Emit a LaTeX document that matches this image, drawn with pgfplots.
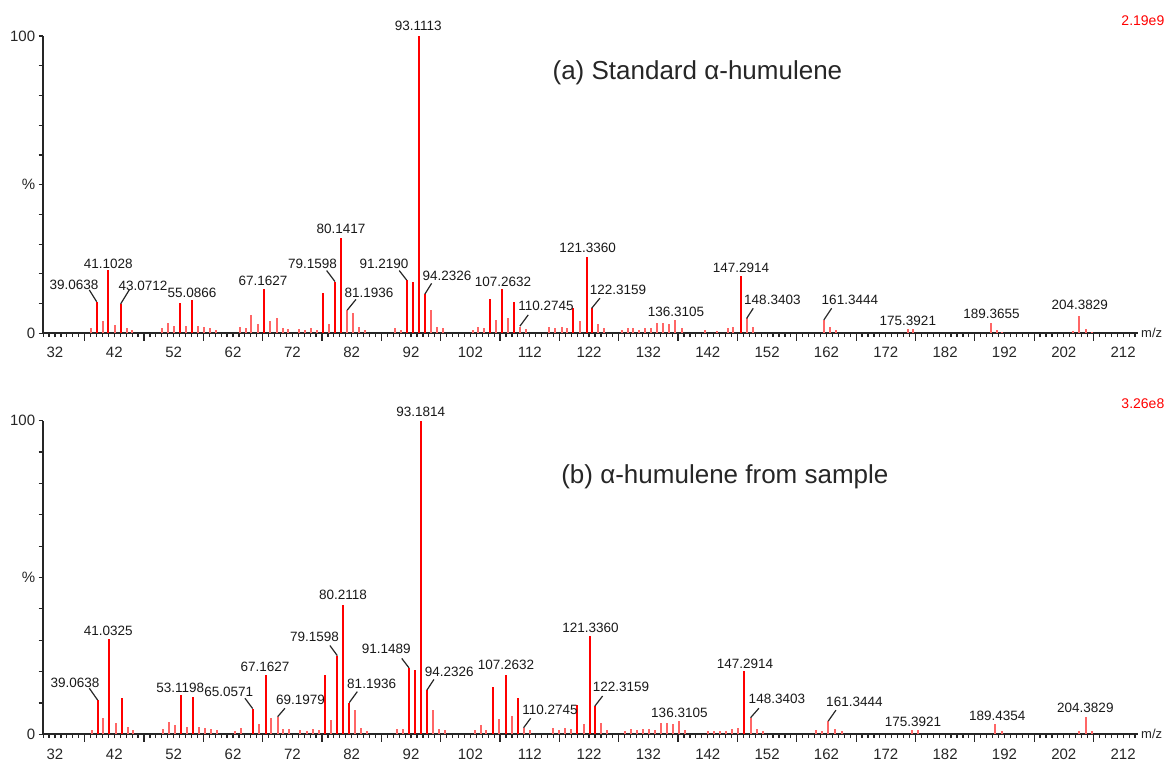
\documentclass[border=0pt]{standalone}
\usepackage{fontspec}
\setmainfont{Liberation Sans}
\usepackage{pgfplots}
\pgfplotsset{compat=1.18}
\usepackage{pgfplotstable}

% (a) standard, relative intensity (%)
\pgfplotstableread{
mz rel
39.03 10.6
40.98 21.3
43.07 9.9
53.06 10.3
55.13 11.2
67.20 14.8
77.10 13.7
79.18 17.4
80.19 32.0
91.26 17.9
92.27 17.4
93.38 100
94.34 13.2
105.29 11.5
107.37 14.8
109.40 10.4
119.33 8.4
121.59 25.8
122.43 8.4
147.54 19.3
}\topmajor
\pgfplotstableread{
mz rel
38.00 1.7
40.10 4.1
42.10 2.8
44.10 1.7
45.00 1.1
50.08 1.7
51.10 3.4
52.05 2.5
54.07 2.5
56.10 2.5
57.10 2.0
58.10 1.7
59.10 1.1
63.17 2.0
64.20 1.7
65.10 6.2
66.15 3.1
68.20 4.3
69.35 5.0
70.40 1.7
71.30 1.5
73.16 1.5
74.12 1.1
75.13 1.7
76.09 1.1
78.20 3.1
81.25 7.8
82.26 6.7
83.27 2.0
84.28 1.1
89.29 1.7
90.25 1.1
95.35 7.8
96.41 2.0
97.43 1.7
102.38 1.1
103.32 2.2
104.28 1.7
106.30 4.5
108.38 5.0
110.35 2.2
111.36 1.3
115.29 2.0
116.25 1.7
117.37 2.0
118.30 1.7
120.40 4.3
123.44 3.1
124.55 1.7
127.48 1.1
128.50 1.7
129.44 1.7
130.45 1.1
131.46 1.7
132.42 1.7
133.48 3.6
134.50 3.6
135.50 3.1
136.47 4.5
137.60 1.7
141.52 1.1
143.60 0.9
145.45 1.7
146.30 2.0
148.55 5.0
149.56 2.0
161.57 4.5
162.58 2.0
163.60 1.1
175.67 1.3
176.60 1.3
189.71 3.3
190.67 1.0
191.50 0.5
203.57 0.8
204.58 5.8
205.70 1.3
206.80 0.6
}\topminor

% (b) sample
\pgfplotstableread{
mz rel
39.19 10.9
41.10 30.4
43.23 11.6
53.23 12.5
55.30 11.9
65.31 8.2
67.50 18.8
77.49 19.0
79.57 25.1
80.58 41.3
81.59 10.1
91.65 21.2
92.66 20.4
93.67 100
94.68 14.1
105.85 15.1
107.94 19.0
109.96 11.6
120.00 9.5
122.14 31.4
122.98 9.0
148.14 20.1
}\botmajor
\pgfplotstableread{
mz rel
38.18 1.4
40.14 5.1
42.22 3.5
44.24 2.4
45.19 1.4
50.25 1.7
51.26 3.8
52.22 3.0
54.29 2.4
56.31 2.4
57.27 2.1
58.28 1.7
59.35 1.4
62.33 1.1
63.29 2.1
66.42 3.3
68.39 5.3
69.52 5.6
70.47 1.7
71.48 1.7
73.30 1.4
74.50 1.1
75.52 1.8
76.53 1.4
78.50 4.6
82.60 7.9
83.61 2.1
84.62 1.1
89.57 1.6
90.58 1.6
95.69 7.7
96.70 1.8
97.71 1.4
102.77 1.4
103.73 2.9
104.62 1.4
106.86 5.0
108.95 5.8
110.97 2.1
111.98 1.4
115.96 2.1
116.97 1.4
117.95 2.1
118.97 1.8
121.13 3.2
123.99 3.5
125.06 1.4
128.04 1.1
129.05 1.6
130.06 1.4
131.07 1.6
132.08 1.8
133.10 1.4
134.10 3.5
135.12 3.5
136.18 3.2
137.19 4.2
138.15 1.4
142.08 1.1
143.09 1.1
144.05 1.1
145.06 1.1
146.12 1.6
147.13 2.1
149.22 5.3
150.23 1.8
151.24 1.1
160.22 1.4
161.23 1.1
162.30 4.2
163.43 1.8
164.55 1.1
176.35 1.4
177.46 1.4
190.38 3.2
191.50 1.1
204.58 1.1
205.70 5.6
206.78 1.1
}\botminor

\pgfplotsset{
  msaxis/.style={
    scale only axis, width=1095.3pt, anchor=south west,
    xmin=29.93, xmax=214.5, ymin=0, ymax=100,
    axis x line*=bottom, axis y line*=left,
    axis line style={-, line width=1.8pt, black!85},
    tick align=outside,
    xtick={32,42,...,212},
    minor xtick={30,...,214},
    extra x ticks={37,47,...,207},
    extra x tick labels={},
    extra x tick style={major tick length=7.3pt},
    ytick={0,10,...,100},
    yticklabels={0,,,,,\%,,,,,100},
    major tick length=4pt, minor tick length=3.3pt,
    every tick/.append style={black!85, line width=1.2pt},
    tick label style={font=\fontsize{15}{17}\selectfont, text=black!85},
    xticklabel style={yshift=-6pt},
    /pgf/number format/assume math mode=true,
    clip=false,
  },
  pk/.style={ycomb, red, line width=2pt, mark=none},
  pkm/.style={ycomb, red!60, line width=2pt, mark=none},
}
\tikzset{
  lbl/.style={font=\fontsize{13.5}{15}\selectfont, inner sep=0pt, text=black!90},
  lead/.style={black!85, line width=1.2pt},
  mz/.style={anchor=west, xshift=3pt, inner sep=0pt, font=\fontsize{13}{15}\selectfont, text=black!85},
  scl/.style={anchor=east, xshift=26.5pt, inner sep=0pt, font=\fontsize{14}{16}\selectfont, text=red},
}

\begin{document}
\begin{tikzpicture}
\useasboundingbox (0,0) rectangle (1165pt,765pt);
%%%%%%%% (a) standard %%%%%%%%
\begin{axis}[msaxis, at={(42.7pt,431.7pt)}, height=297.3pt]
\addplot[pkm] table[x=mz, y=rel] {\topminor};
\addplot[pk] table[x=mz, y=rel] {\topmajor};
% peak labels
\node[lbl] at (axis cs:35.2,16.2) {39.0638};
\node[lbl] at (axis cs:40.98,23.5) {41.1028};
\node[lbl] at (axis cs:46.83,16.0) {43.0712};
\node[lbl] at (axis cs:55.08,13.5) {55.0866};
\node[lbl] at (axis cs:67.05,17.6) {67.1627};
\node[lbl] at (axis cs:75.39,23.5) {79.1598};
\node[lbl] at (axis cs:80.19,35.0) {80.1417};
\node[lbl] at (axis cs:84.9,13.5) {81.1936};
\node[lbl] at (axis cs:87.43,23.5) {91.2190};
\node[lbl] at (axis cs:93.21,103.4) {93.1113};
\node[lbl] at (axis cs:98.05,19.3) {94.2326};
\node[lbl] at (axis cs:107.48,17.4) {107.2632};
\node[lbl] at (axis cs:114.73,9.2) {110.2745};
\node[lbl] at (axis cs:121.76,28.6) {121.3360};
\node[lbl] at (axis cs:126.86,14.6) {122.3159};
\node[lbl] at (axis cs:136.64,7.3) {136.3105};
\node[lbl] at (axis cs:147.59,21.9) {147.2914};
\node[lbl] at (axis cs:152.89,11.2) {148.3403};
\node[lbl] at (axis cs:165.95,11.2) {161.3444};
\node[lbl] at (axis cs:175.72,4.2) {175.3921};
\node[lbl] at (axis cs:189.83,6.7) {189.3655};
\node[lbl] at (axis cs:204.7,9.5) {204.3829};
% leader lines
\draw[lead] (axis cs:37.78,14.6) -- (axis cs:39.03,10.6);
\draw[lead] (axis cs:44.52,14.6) -- (axis cs:43.07,9.9);
\draw[lead] (axis cs:77.78,21.1) -- (axis cs:79.18,17.4);
\draw[lead] (axis cs:82.72,11.4) -- (axis cs:81.25,7.8);
\draw[lead] (axis cs:90.01,21.1) -- (axis cs:91.26,17.9);
\draw[lead] (axis cs:95.47,16.8) -- (axis cs:94.34,13.2);
\draw[lead] (axis cs:111.75,6.2) -- (axis cs:110.35,2.4);
\draw[lead] (axis cs:123.83,11.8) -- (axis cs:122.43,8.4);
\draw[lead] (axis cs:149.66,8.4) -- (axis cs:148.55,5.0);
\draw[lead] (axis cs:162.87,8.4) -- (axis cs:161.57,4.5);
\node[font=\fontsize{26}{30}\selectfont, text=black!85] at (axis cs:140.26,87.6) {(a) Standard α-humulene};
\node[mz] at (rel axis cs:1,0) {m/z};
\node[scl, yshift=15.3pt] at (rel axis cs:1,1) {2.19e9};
\end{axis}
%%%%%%%% (b) sample %%%%%%%%
\begin{axis}[msaxis, at={(42.7pt,30.7pt)}, height=313.6pt, xticklabel style={yshift=-1.5pt}]
\addplot[pkm] table[x=mz, y=rel] {\botminor};
\addplot[pk] table[x=mz, y=rel] {\botmajor};
\node[lbl] at (axis cs:35.37,16.3) {39.0638};
\node[lbl] at (axis cs:40.98,33.0) {41.0325};
\node[lbl] at (axis cs:53.11,14.7) {53.1198};
\node[lbl] at (axis cs:61.28,13.6) {65.0571};
\node[lbl] at (axis cs:67.38,21.4) {67.1627};
\node[lbl] at (axis cs:73.36,10.9) {69.1979};
\node[lbl] at (axis cs:75.72,31.1) {79.1598};
\node[lbl] at (axis cs:80.53,44.4) {80.2118};
\node[lbl] at (axis cs:85.36,16.0) {81.1936};
\node[lbl] at (axis cs:87.84,27.1) {91.1489};
\node[lbl] at (axis cs:93.62,102.9) {93.1814};
\node[lbl] at (axis cs:98.44,20.0) {94.2326};
\node[lbl] at (axis cs:107.99,22.1) {107.2632};
\node[lbl] at (axis cs:115.4,7.7) {110.2745};
\node[lbl] at (axis cs:122.23,34.1) {121.3360};
\node[lbl] at (axis cs:127.37,15.2) {122.3159};
\node[lbl] at (axis cs:137.22,6.9) {136.3105};
\node[lbl] at (axis cs:148.26,22.6) {147.2914};
\node[lbl] at (axis cs:153.65,11.2) {148.3403};
\node[lbl] at (axis cs:166.71,10.4) {161.3444};
\node[lbl] at (axis cs:176.57,4.0) {175.3921};
\node[lbl] at (axis cs:190.8,5.8) {189.4354};
\node[lbl] at (axis cs:205.63,8.3) {204.3829};
\draw[lead] (axis cs:37.78,14.7) -- (axis cs:39.19,10.9);
\draw[lead] (axis cs:64.01,11.5) -- (axis cs:65.31,8.2);
\draw[lead] (axis cs:70.75,8.3) -- (axis cs:69.52,5.6);
\draw[lead] (axis cs:78.33,28.3) -- (axis cs:79.57,25.1);
\draw[lead] (axis cs:82.94,13.6) -- (axis cs:81.59,10.1);
\draw[lead] (axis cs:90.43,24.2) -- (axis cs:91.65,21.2);
\draw[lead] (axis cs:95.86,17.5) -- (axis cs:94.68,14.1);
\draw[lead] (axis cs:112.15,5.1) -- (axis cs:110.97,2.1);
\draw[lead] (axis cs:124.28,12.2) -- (axis cs:122.98,9.0);
\draw[lead] (axis cs:150.62,8.3) -- (axis cs:149.22,5.3);
\draw[lead] (axis cs:163.6,7.7) -- (axis cs:162.3,4.2);
\node[font=\fontsize{26}{30}\selectfont, text=black!85] at (axis cs:144.89,82.1) {(b) α-humulene from sample};
\node[mz] at (rel axis cs:1,0) {m/z};
\node[scl, yshift=16.7pt] at (rel axis cs:1,1) {3.26e8};
\end{axis}
\end{tikzpicture}
\end{document}
